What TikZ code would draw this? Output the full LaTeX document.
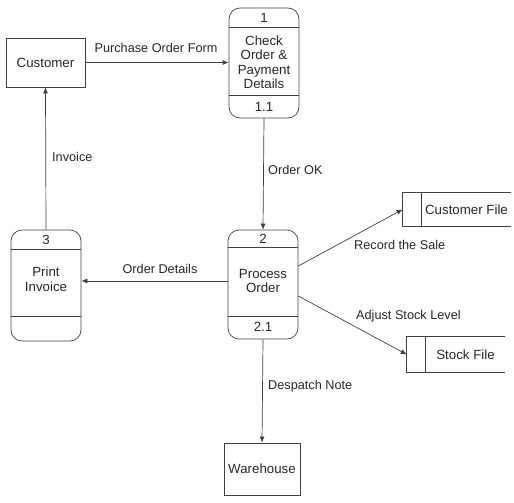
\documentclass[tikz,border=0pt]{standalone}
\usepackage{fontspec}
\setmainfont{Liberation Sans}
\usetikzlibrary{positioning,calc,arrows.meta}
\tikzstyle{line} = [draw=black!75,line width=0.7pt]
\tikzstyle{flow} = [line,-{Latex[length=6pt,width=5pt]}]
\tikzstyle{entity} = [draw=black!75,line width=0.7pt,rectangle,font=\fontsize{13.3}{15}\selectfont,text=black!85]
\tikzstyle{process} = [draw=black!75,line width=0.7pt,rectangle,rounded corners=11pt,minimum width=70pt]
\tikzstyle{ptext} = [align=center,font=\fontsize{13.3}{14.5}\selectfont,text=black!85,inner sep=0pt]
\tikzstyle{store} = [rectangle,font=\fontsize{13.3}{15}\selectfont,text=black!85]
\tikzstyle{flowlabel} = [font=\fontsize{12.7}{14}\selectfont,text=black!85,inner sep=1pt]

\begin{document}
\begin{tikzpicture}[x=1pt,y=-1pt]
  \useasboundingbox (0,0) rectangle (514,503);
  % external entities
  \node[entity,minimum width=79pt,minimum height=49pt] (customer) at (45.5,62.5) {Customer};
  \node[entity,minimum width=76pt,minimum height=52pt] (warehouse) at (262,469) {Warehouse};
  % processes
  \node[process,minimum height=110pt] (p1) at (264,63) {};
  \node[process,minimum height=109pt] (p2) at (263,284.5) {};
  \node[process,minimum height=111pt] (p3) at (46,285.5) {};
  \draw[line] ([yshift=-20pt]p1.north west) -- ([yshift=-20pt]p1.north east);
  \draw[line] ([yshift=23pt]p1.south west) -- ([yshift=23pt]p1.south east);
  \draw[line] ([yshift=-18pt]p2.north west) -- ([yshift=-18pt]p2.north east);
  \draw[line] ([yshift=23pt]p2.south west) -- ([yshift=23pt]p2.south east);
  \draw[line] ([yshift=-20pt]p3.north west) -- ([yshift=-20pt]p3.north east);
  \draw[line] ([yshift=25pt]p3.south west) -- ([yshift=25pt]p3.south east);
  \node[ptext] (p1id) at (264,18) {1};
  \node[ptext] (p1name) at (264,62) {Check\\Order \&\\Payment\\Details};
  \node[ptext] (p1ref) at (264,107) {1.1};
  \node[ptext] (p2id) at (263,239) {2};
  \node[ptext] (p2name) at (263,281) {Process\\Order};
  \node[ptext] (p2ref) at (263,327) {2.1};
  \node[ptext] (p3id) at (46,240) {3};
  \node[ptext] (p3name) at (46,279) {Print\\Invoice};
  % data stores
  \node[store,minimum width=87pt,minimum height=33pt] (custfile) at (466.5,209.5) {Customer File};
  \draw[line] (custfile.north east) -- ([xshift=-19pt]custfile.north west) -- ([xshift=-19pt]custfile.south west) -- (custfile.south east);
  \draw[line] (custfile.north west) -- (custfile.south west);
  \node[store,minimum width=79pt,minimum height=35pt] (stockfile) at (465.5,354.5) {Stock File};
  \draw[line] (stockfile.north east) -- ([xshift=-19pt]stockfile.north west) -- ([xshift=-19pt]stockfile.south west) -- (stockfile.south east);
  \draw[line] (stockfile.north west) -- (stockfile.south west);
  % data flows
  \path[flow] (customer.east) -- (p1.west |- customer.east);
  \node[flowlabel] (lpof) at (156,48) {Purchase Order Form};
  \path[flow] (p1.south) -- (p2.north);
  \node[flowlabel,anchor=west] (lok) at (267,170) {Order OK};
  \coordinate (odend) at ([yshift=4.5pt]p3.east);
  \path[flow] (p2.west |- odend) -- (odend);
  \node[flowlabel] (lod) at (160,269) {Order Details};
  \path[flow] (p3.north) -- (customer.south);
  \node[flowlabel,anchor=west] (linv) at (51,157) {Invoice};
  \path[flow] ([yshift=18.5pt]p2.east) -- ([xshift=-19pt]custfile.west);
  \node[flowlabel,anchor=west] (lrec) at (353,245) {Record the Sale};
  \path[flow] ([yshift=-11.5pt]p2.east) -- ([xshift=-19pt]stockfile.west);
  \node[flowlabel,anchor=west] (ladj) at (355,316) {Adjust Stock Level};
  \path[flow] (p2.south) -- (warehouse.north);
  \node[flowlabel,anchor=west] (ldes) at (267,386) {Despatch Note};
\end{tikzpicture}
\end{document}
